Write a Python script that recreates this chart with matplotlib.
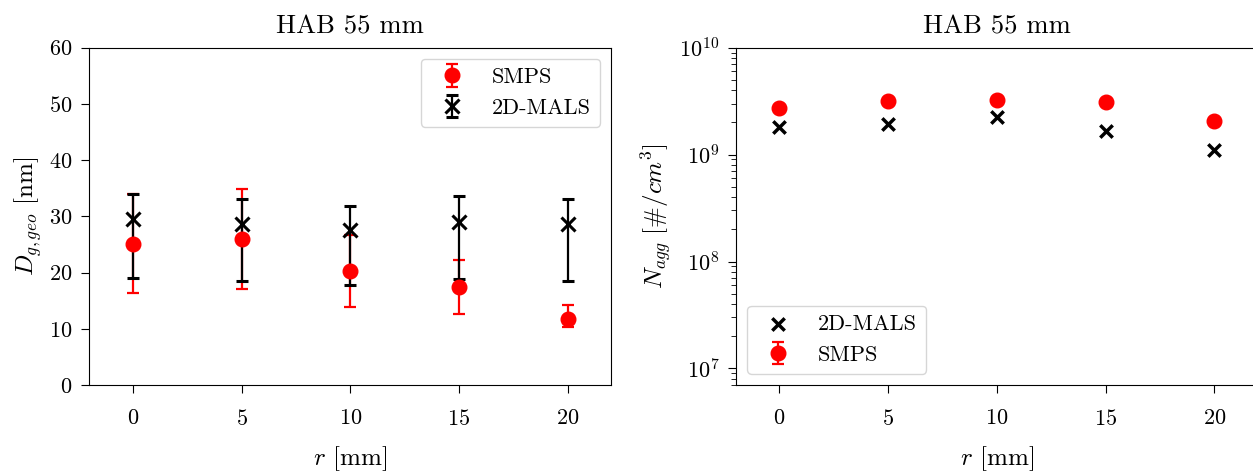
"""
Size and number concentration of aggregates vs radial position, HAB 55 mm.
"""
import matplotlib.pyplot as plt

plt.rcParams["font.family"] = "serif"
plt.rcParams["font.serif"] = ["cmr10"]
plt.rcParams["mathtext.fontset"] = "cm"
plt.rcParams["axes.unicode_minus"] = False
plt.rcParams["axes.formatter.use_mathtext"] = True
plt.rcParams["font.size"] = 16
plt.rcParams["axes.labelsize"] = 18
plt.rcParams["xtick.major.size"] = 6
plt.rcParams["ytick.major.size"] = 6
plt.rcParams["ytick.minor.size"] = 3.5
plt.rcParams["xtick.major.pad"] = 11
plt.rcParams["ytick.major.pad"] = 6

# radial positions [mm]
r_mm = [0, 5, 10, 15, 20]

# geometric mean diameter [nm]
smps_d = [25.1, 25.9, 20.2, 17.5, 11.7]
smps_d_lo = [8.8, 8.9, 6.3, 4.8, 1.3]
smps_d_hi = [8.8, 8.9, 6.4, 4.7, 2.5]

mals_d = [29.5, 28.7, 27.5, 29.0, 28.7]
mals_d_lo = [10.5, 10.2, 9.8, 10.2, 10.2]
mals_d_hi = [4.4, 4.3, 4.3, 4.6, 4.3]

# aggregate number concentration [#/cm^3]
smps_n = [2.71e9, 3.18e9, 3.25e9, 3.10e9, 2.08e9]
smps_n_err = [0, 0, 0, 0, 0]
mals_n = [1.80e9, 1.94e9, 2.24e9, 1.65e9, 1.11e9]

fig = plt.figure(figsize=(12.53, 4.74), dpi=100)
ax1 = fig.add_axes([0.0713, 0.1878, 0.4164, 0.7116])
ax2 = fig.add_axes([0.5874, 0.1878, 0.4164, 0.7116])

ax1.errorbar(r_mm, smps_d, yerr=[smps_d_lo, smps_d_hi], fmt="o", color="red",
             markersize=10.5, elinewidth=1.6, capsize=4.5, capthick=1.6, label="SMPS")
ax1.errorbar(r_mm, mals_d, yerr=[mals_d_lo, mals_d_hi], fmt="x", color="black",
             markersize=10, mew=2.2, elinewidth=1.6, capsize=4.5, capthick=1.6, label="2D-MALS")
ax1.set_xlim(-2, 22)
ax1.set_ylim(0, 60)
ax1.set_xticks([0, 5, 10, 15, 20])
ax1.set_title("HAB 55 mm", pad=10)
ax1.set_xlabel(r"$r$ [mm]", labelpad=11)
ax1.set_ylabel(r"$D_{g,geo}$ [nm]")
ax1.legend(loc="upper right")

ax2.scatter(r_mm, mals_n, marker="x", color="black", s=80, linewidths=2.5, label="2D-MALS")
ax2.errorbar(r_mm, smps_n, yerr=smps_n_err, fmt="o", color="red",
             markersize=10.5, elinewidth=1.6, capsize=4.5, capthick=1.6, label="SMPS")
ax2.set_yscale("log")
ax2.set_xlim(-2, 22)
ax2.set_ylim(7e6, 1e10)
ax2.set_xticks([0, 5, 10, 15, 20])
ax2.set_title("HAB 55 mm", pad=10)
ax2.set_xlabel(r"$r$ [mm]", labelpad=11)
ax2.set_ylabel(r"$N_{agg}\ [\#/cm^3]$")
ax2.legend(loc="lower left")

fig.savefig("out.png", dpi=100)
